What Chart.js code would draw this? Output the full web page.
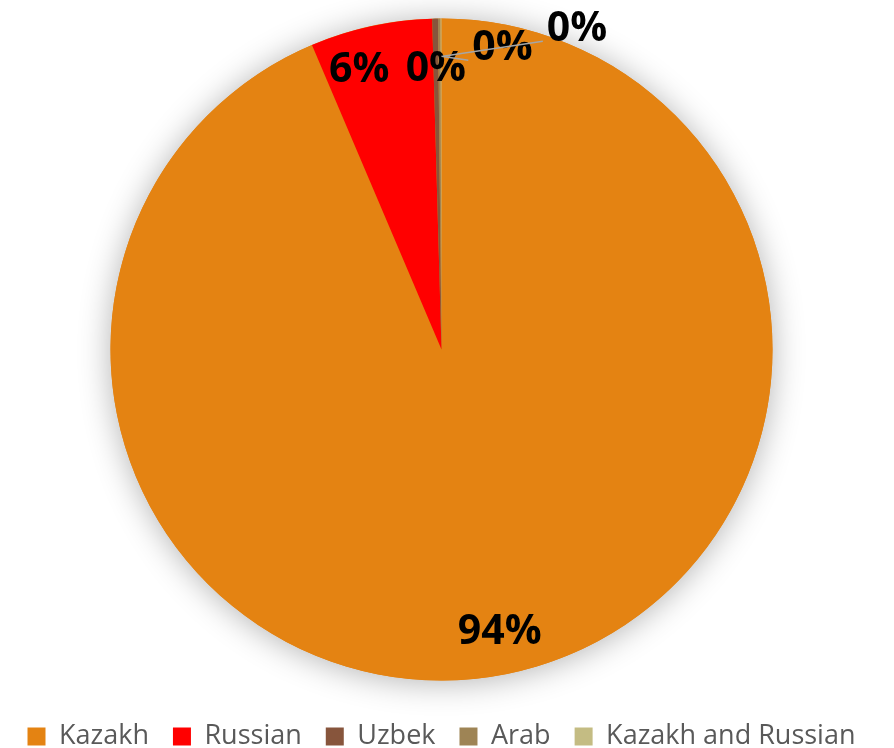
<!DOCTYPE html>
<html>
<head>
<meta charset="utf-8">
<script src="https://cdn.jsdelivr.net/npm/chart.js@4.4.1/dist/chart.umd.min.js"></script>
<style>
  html, body { margin: 0; padding: 0; background: #fff; overflow: hidden; }
  #wrap { width: 894px; height: 748px; position: relative; }
</style>
</head>
<body>
<div id="wrap"><canvas id="pie"></canvas></div>
<script>
// Chart Data
const categories = ['Kazakh', 'Russian', 'Uzbek', 'Arab', 'Kazakh and Russian'];
const shares = [93.6, 5.95, 0.28, 0.12, 0.05];
const pctLabels = ['94%', '6%', '0%', '0%', '0%'];
const colors = ['#E48312', '#FF0000', '#87553C', '#9E8455', '#C4BC83'];

// where each percent label sits, relative to its slice's mid point at 88% of the radius
const labelShift = [[0, -3], [-20, 5], [0, 11], [63, -10], [136, -29]];
const hasLeader = [false, false, false, true, true];

const pieShadow = {
    id: 'pieShadow',
    beforeDatasetsDraw(chart) {
        const arc = chart.getDatasetMeta(0).data[0];
        if (!arc) return;
        const ctx = chart.ctx;
        ctx.save();
        ctx.shadowColor = 'rgba(0,0,0,0.3)';
        ctx.shadowBlur = 32;
        ctx.shadowOffsetY = 2;
        ctx.fillStyle = colors[0];
        ctx.beginPath();
        ctx.arc(arc.x, arc.y, arc.outerRadius, 0, Math.PI * 2);
        ctx.fill();
        ctx.restore();
    }
};

const pctText = {
    id: 'pctText',
    afterDatasetsDraw(chart) {
        const ctx = chart.ctx;
        const arcs = chart.getDatasetMeta(0).data;
        ctx.save();
        ctx.font = 'bold 41px "Open Sans"';
        ctx.textAlign = 'center';
        ctx.textBaseline = 'middle';
        arcs.forEach((arc, i) => {
            const mid = (arc.startAngle + arc.endAngle) / 2;
            const r = arc.outerRadius * 0.88;
            const ax = arc.x + Math.cos(mid) * r;
            const ay = arc.y + Math.sin(mid) * r;
            const lx = ax + labelShift[i][0];
            const ly = ay + labelShift[i][1];
            if (hasLeader[i]) {
                const w = ctx.measureText(pctLabels[i]).width;
                ctx.strokeStyle = '#A6A6A6';
                ctx.lineWidth = 1.5;
                ctx.beginPath();
                ctx.moveTo(ax + 2, ay - 2);
                ctx.lineTo(lx - w / 2 - 4, ly + 12);
                ctx.stroke();
            }
            ctx.fillStyle = '#000';
            ctx.fillText(pctLabels[i], lx, ly);
        });
        ctx.restore();
    }
};

const chart = new Chart(document.getElementById('pie'), {
    type: 'pie',
    data: {
        labels: categories,
        datasets: [{
            data: shares,
            backgroundColor: colors,
            borderWidth: 0,
        }],
    },
    options: {
        responsive: true,
        maintainAspectRatio: false,
        animation: false,
        radius: 331,
        layout: {
            padding: { top: -4, left: 0, right: 11, bottom: -12 },
        },
        plugins: {
            legend: {
                position: 'bottom',
                labels: {
                    boxWidth: 18,
                    boxHeight: 18,
                    padding: 24,
                    color: '#595959',
                    font: { family: '"Open Sans"', size: 27 },
                },
            },
            tooltip: { enabled: false },
        },
    },
    plugins: [pieShadow, pctText],
});
</script>
</body>
</html>
